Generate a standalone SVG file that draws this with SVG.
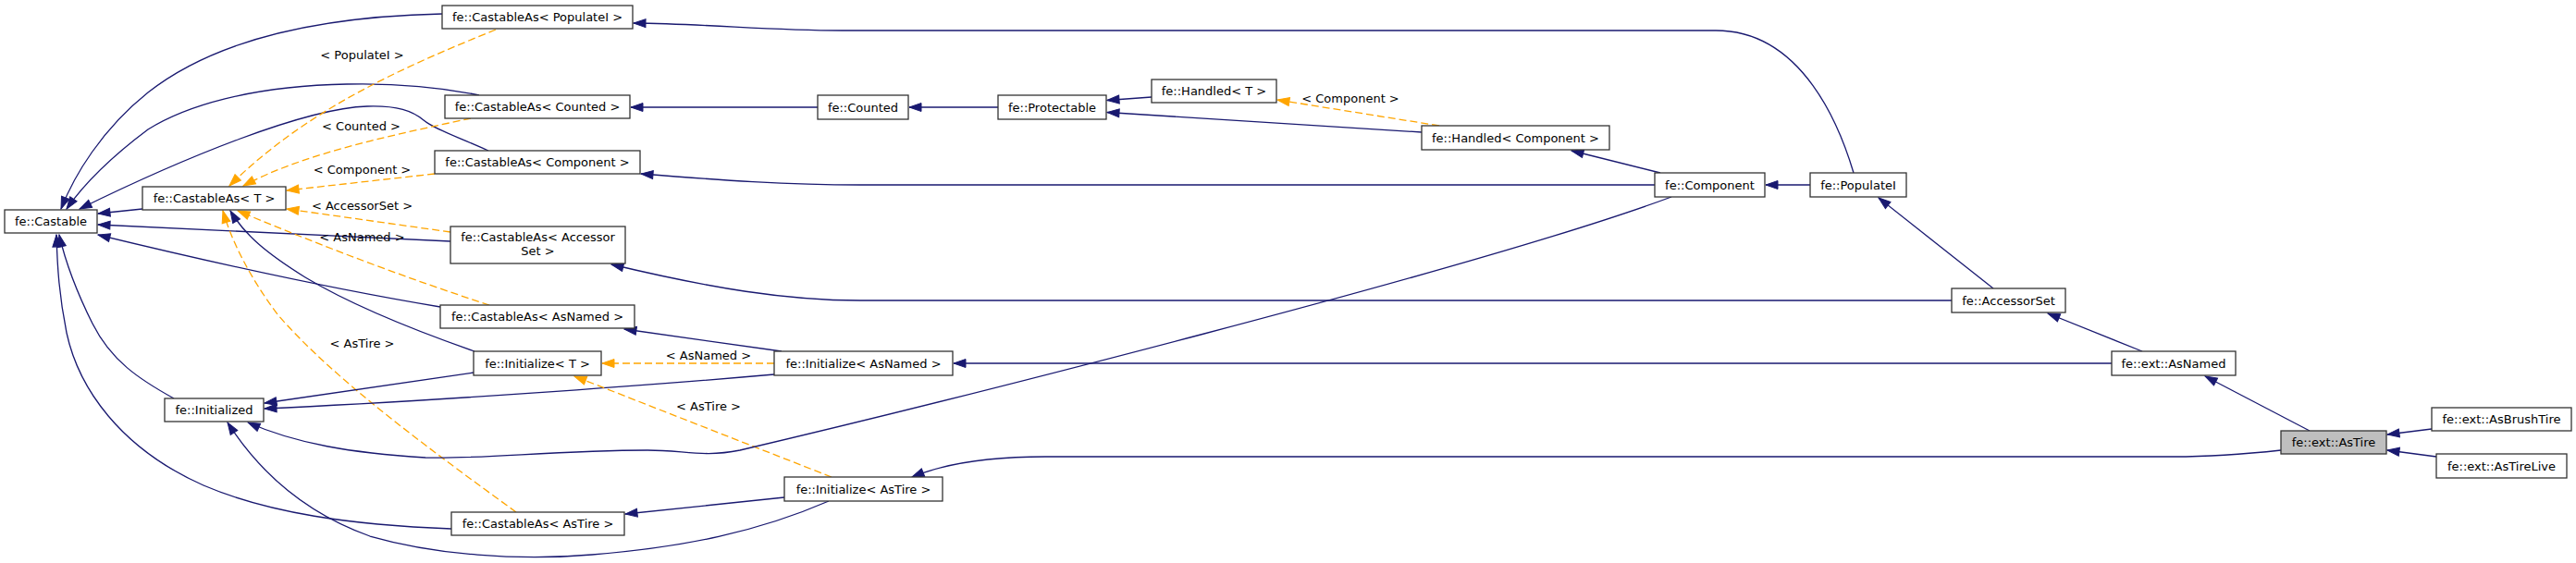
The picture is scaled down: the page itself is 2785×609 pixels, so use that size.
<svg xmlns="http://www.w3.org/2000/svg" width="2785" height="609" viewBox="0 0 2785 609">
<defs>
<style>
.node rect{fill:#ffffff;stroke:#333333;stroke-width:1.3}
.node rect.sel{fill:#bfbfbf}
text{font-family:"DejaVu Sans","Liberation Sans",sans-serif;font-size:13px;text-anchor:middle;fill:#000000}
.e{fill:none;stroke:#191970;stroke-width:1.3;marker-end:url(#ab)}
.d{fill:none;stroke:#ffa500;stroke-width:1.3;stroke-dasharray:8,4;marker-end:url(#ao)}
</style>
<marker id="ab" markerUnits="userSpaceOnUse" markerWidth="16" markerHeight="12" viewBox="-14 -6 16 12" refX="0" refY="0" orient="auto"><path d="M0,0 L-13,-4.5 L-13,4.5 z" fill="#191970" stroke="#191970"/></marker>
<marker id="ao" markerUnits="userSpaceOnUse" markerWidth="16" markerHeight="12" viewBox="-14 -6 16 12" refX="0" refY="0" orient="auto"><path d="M0,0 L-13,-4.5 L-13,4.5 z" fill="#ffa500" stroke="#ffa500"/></marker>
</defs>
<rect x="0" y="0" width="2785" height="609" fill="#ffffff"/>
<g id="connectors">
<path class="e" d="M478,15 C340,18 230,45 160,100 C110,140 80,190 66,226"/>
<path class="e" d="M518,103 C470,93 420,90 375,91 C270,93 200,115 160,140 C120,170 90,200 72,226"/>
<path class="e" d="M528,163 C495,148 470,140 458,130 C446,120 430,114 397,115 C330,117 200,170 86,226"/>
<path class="e" d="M154,226 L106,231"/>
<path class="e" d="M487,261 L106,243"/>
<path class="e" d="M476,332 Q320,306 106,254"/>
<path class="e" d="M488,572 C380,568 290,555 220,525 C130,485 85,420 72,360 C64,320 62,290 61,254"/>
<path class="e" d="M188,431 C150,410 120,390 100,350 C80,310 70,280 64,254"/>
<path class="d" d="M536,32 C430,75 330,120 248,201"/>
<path class="d" d="M509,128 C430,145 330,165 263,201"/>
<path class="d" d="M470,188 L310,206"/>
<path class="d" d="M487,251 L310,226"/>
<path class="d" d="M529,330 Q400,288 257,228"/>
<path class="d" d="M558,554 C470,490 360,410 300,340 C270,300 250,260 241,228"/>
<path class="e" d="M513,380 C450,358 380,330 330,300 C290,275 265,255 249,228"/>
<path class="e" d="M512,403 L286,436"/>
<path class="e" d="M837,405 C700,417 450,435 286,442"/>
<path class="d" d="M837,393 L651,393"/>
<path class="d" d="M899,516 L621,407"/>
<path class="e" d="M845,380 L675,356"/>
<path class="e" d="M1807,213 C1600,290 1000,440 800,487 C760,495 740,487 700,487 C600,487 520,497 460,495 C380,490 320,480 268,457"/>
<path class="e" d="M896,542 C820,575 740,592 640,600 C560,607 470,600 400,580 C330,555 280,510 246,457"/>
<path class="e" d="M848,538 L676,556"/>
<path class="e" d="M884,116 L682,116"/>
<path class="e" d="M1079,116 L983,116"/>
<path class="e" d="M1245,105 L1197,108.5"/>
<path class="e" d="M1537,143 L1197,121.5"/>
<path class="d" d="M1556,136 L1381,108"/>
<path class="e" d="M1795,187 L1699,163"/>
<path class="e" d="M1789,200 L930,200 C850,200 780,195 693,188"/>
<path class="e" d="M1957,200 L1909,200"/>
<path class="e" d="M2004,187 C1990,140 1950,33 1855,33 L910,33 C830,33 770,26 685,25"/>
<path class="e" d="M2155,312 L2031,214"/>
<path class="e" d="M2110,325 L930,325 C850,325 770,312 661,286"/>
<path class="e" d="M2316,380 L2214,339"/>
<path class="e" d="M2283,393 L1031,393"/>
<path class="e" d="M2497,466 L2384,407"/>
<path class="e" d="M2466,487 C2420,492 2390,494 2350,494 L1130,494 C1070,494 1020,502 986,516"/>
<path class="e" d="M2629,464 L2581,470"/>
<path class="e" d="M2634,494 L2581,487"/>
<text x="391.5" y="63.5">&lt; PopulateI &gt;</text>
<text x="390.5" y="140.5">&lt; Counted &gt;</text>
<text x="391.5" y="188">&lt; Component &gt;</text>
<text x="391.5" y="227">&lt; AccessorSet &gt;</text>
<text x="391.5" y="261">&lt; AsNamed &gt;</text>
<text x="391.5" y="375.5">&lt; AsTire &gt;</text>
<text x="766" y="389">&lt; AsNamed &gt;</text>
<text x="766" y="444">&lt; AsTire &gt;</text>
<text x="1460" y="111">&lt; Component &gt;</text>
</g>
<g id="n_castable" class="node"><rect x="5" y="227" width="100" height="25"/><text x="55" y="244">fe::Castable</text></g>
<g id="n_cast_populate" class="node"><rect x="478" y="6" width="206" height="25"/><text x="581" y="23">fe::CastableAs&lt; PopulateI &gt;</text></g>
<g id="n_cast_counted" class="node"><rect x="481" y="103" width="200" height="25"/><text x="581" y="120">fe::CastableAs&lt; Counted &gt;</text></g>
<g id="n_cast_component" class="node"><rect x="470" y="163" width="222" height="25"/><text x="581" y="180">fe::CastableAs&lt; Component &gt;</text></g>
<g id="n_cast_T" class="node"><rect x="154" y="202" width="155" height="25"/><text x="231.5" y="219">fe::CastableAs&lt; T &gt;</text></g>
<g id="n_cast_accessor" class="node"><rect x="487" y="245" width="189" height="40"/><text x="581.5" y="261">fe::CastableAs&lt; Accessor</text><text x="581.5" y="276">Set &gt;</text></g>
<g id="n_cast_asnamed" class="node"><rect x="476" y="330" width="210" height="25"/><text x="581" y="347">fe::CastableAs&lt; AsNamed &gt;</text></g>
<g id="n_init_T" class="node"><rect x="512" y="380" width="138" height="26"/><text x="581" y="397.5">fe::Initialize&lt; T &gt;</text></g>
<g id="n_initialized" class="node"><rect x="178" y="431" width="107" height="25"/><text x="231.5" y="448">fe::Initialized</text></g>
<g id="n_cast_astire" class="node"><rect x="488" y="554" width="187" height="25"/><text x="581.5" y="571">fe::CastableAs&lt; AsTire &gt;</text></g>
<g id="n_counted" class="node"><rect x="884" y="103" width="98" height="26"/><text x="933" y="120.5">fe::Counted</text></g>
<g id="n_protectable" class="node"><rect x="1079" y="103" width="117" height="26"/><text x="1137.5" y="120.5">fe::Protectable</text></g>
<g id="n_handled_T" class="node"><rect x="1245" y="86" width="135" height="25"/><text x="1312.5" y="103">fe::Handled&lt; T &gt;</text></g>
<g id="n_init_asnamed" class="node"><rect x="837" y="380" width="193" height="26"/><text x="933.5" y="397.5">fe::Initialize&lt; AsNamed &gt;</text></g>
<g id="n_init_astire" class="node"><rect x="848" y="516" width="171" height="26"/><text x="933.5" y="533.5">fe::Initialize&lt; AsTire &gt;</text></g>
<g id="n_handled_comp" class="node"><rect x="1537" y="136" width="203" height="26"/><text x="1638.5" y="153.5">fe::Handled&lt; Component &gt;</text></g>
<g id="n_component" class="node"><rect x="1789" y="187" width="119" height="26"/><text x="1848.5" y="204.5">fe::Component</text></g>
<g id="n_populate" class="node"><rect x="1957" y="187" width="104" height="26"/><text x="2009" y="204.5">fe::PopulateI</text></g>
<g id="n_accessorset" class="node"><rect x="2110" y="312" width="123" height="26"/><text x="2171.5" y="329.5">fe::AccessorSet</text></g>
<g id="n_ext_asnamed" class="node"><rect x="2283" y="380" width="134" height="26"/><text x="2350" y="397.5">fe::ext::AsNamed</text></g>
<g id="n_ext_astire" class="node"><rect class="sel" x="2466" y="466" width="114" height="25"/><text x="2523" y="483">fe::ext::AsTire</text></g>
<g id="n_brush" class="node"><rect x="2629" y="441" width="151" height="25"/><text x="2704.5" y="458">fe::ext::AsBrushTire</text></g>
<g id="n_live" class="node"><rect x="2634" y="491" width="141" height="26"/><text x="2704.5" y="508.5">fe::ext::AsTireLive</text></g>
</svg>
